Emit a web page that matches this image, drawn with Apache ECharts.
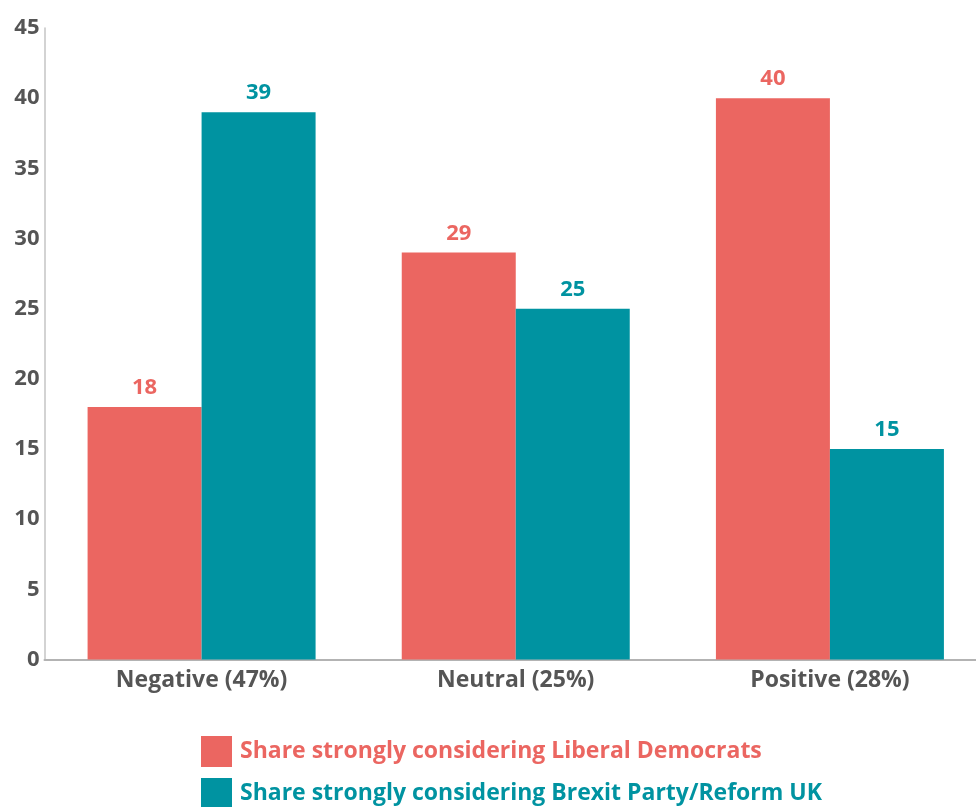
<!DOCTYPE html>
<html>
<head>
<meta charset="utf-8">
<script src="https://cdn.jsdelivr.net/npm/echarts@6/dist/echarts.min.js"></script>
<style>
  html, body { margin: 0; padding: 0; background: #ffffff; }
  #chart { width: 976px; height: 807px; }
</style>
</head>
<body>
<div id="chart"></div>
<script>
// Sentiment groups and share strongly considering each party (%)
const categories = ['Negative (47%)', 'Neutral (25%)', 'Positive (28%)'];
const libDemValues = [18, 29, 40];
const brexitValues = [39, 25, 15];
const seriesNames = ['Share strongly considering Liberal Democrats', 'Share strongly considering Brexit Party/Reform UK'];
const yTicks = { min: 0, max: 45, interval: 5 };

const RED = '#EB6661';
const TEAL = '#0093A1';
const FONT = '"Open Sans", "Noto Sans", sans-serif';

const chart = echarts.init(document.getElementById('chart'), null, { renderer: 'canvas' });

function legendRow(name, color, top) {
  return {
    orient: 'vertical',
    left: 201,
    top: top,
    padding: 0,
    itemWidth: 31,
    itemHeight: 31,
    icon: 'rect',
    selectedMode: false,
    data: [{ name: name, textStyle: { color: color } }],
    textStyle: { fontFamily: FONT, fontSize: 23, fontWeight: 'bold', padding: [0, 0, 0, 3] }
  };
}

chart.setOption({
  animation: false,
  textStyle: { fontFamily: FONT },
  grid: { left: 44.5, top: 28, width: 942.5, height: 631.5, containLabel: false, outerBoundsMode: 'none' },
  legend: [
    legendRow(seriesNames[0], RED, 736),
    legendRow(seriesNames[1], TEAL, 778)
  ],
  xAxis: {
    type: 'category',
    data: categories,
    axisLine: { lineStyle: { color: '#b3b3b3', width: 2 } },
    axisTick: { show: false },
    axisLabel: { color: '#555555', fontSize: 23, fontWeight: 'bold', margin: 9, fontFamily: FONT }
  },
  yAxis: {
    type: 'value',
    min: yTicks.min,
    max: yTicks.max,
    interval: yTicks.interval,
    splitLine: { show: false },
    axisLine: { show: true, lineStyle: { color: '#c4c4c4', width: 1.5 } },
    axisTick: { show: false },
    axisLabel: { color: '#555555', fontSize: 22, fontWeight: 'bold', margin: 5, fontFamily: FONT }
  },
  series: [
    {
      name: seriesNames[0],
      type: 'bar',
      data: libDemValues,
      barWidth: 114,
      barGap: '0%',
      itemStyle: { color: RED },
      label: { show: true, position: 'top', distance: 8, color: RED, fontSize: 22, fontWeight: 'bold', fontFamily: FONT }
    },
    {
      name: seriesNames[1],
      type: 'bar',
      data: brexitValues,
      barWidth: 114,
      barGap: '0%',
      itemStyle: { color: TEAL },
      label: { show: true, position: 'top', distance: 8, color: TEAL, fontSize: 22, fontWeight: 'bold', fontFamily: FONT }
    }
  ]
});
</script>
</body>
</html>
